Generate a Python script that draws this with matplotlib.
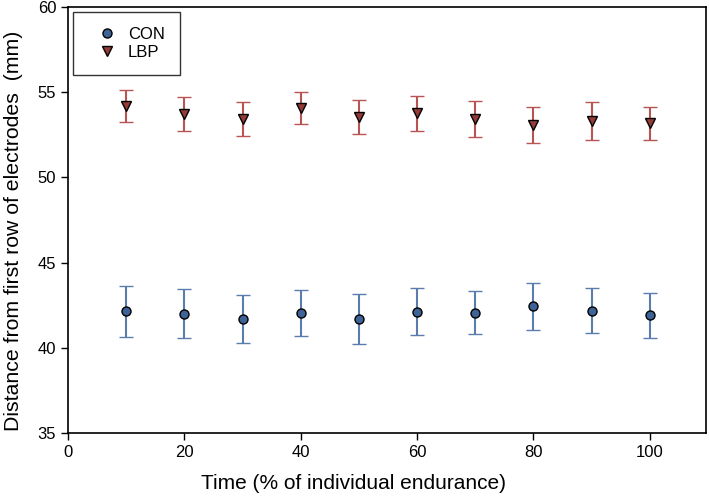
import matplotlib.pyplot as plt

plt.rcParams['font.family'] = ['Liberation Sans', 'DejaVu Sans']

# data
time = [10, 20, 30, 40, 50, 60, 70, 80, 90, 100]
con_mean = [42.15, 42.0, 41.7, 42.05, 41.7, 42.12, 42.07, 42.45, 42.18, 41.9]
con_err = [1.5, 1.45, 1.4, 1.37, 1.47, 1.37, 1.26, 1.38, 1.3, 1.33]
lbp_mean = [54.2, 53.7, 53.4, 54.05, 53.55, 53.75, 53.42, 53.08, 53.3, 53.17]
lbp_err = [0.95, 1.0, 1.0, 0.93, 1.0, 1.02, 1.05, 1.07, 1.1, 0.98]

fig = plt.figure(figsize=(7.09, 4.96), dpi=100)
ax = fig.add_axes([0.096, 0.127, 0.9, 0.859])

ax.errorbar(time, con_mean, yerr=con_err, fmt='o', color='#3E6497',
            ecolor='#5A7DAE', elinewidth=1.5, capsize=5, capthick=1.5,
            markersize=6.5, markeredgecolor='black', markeredgewidth=1.0,
            label='CON')
ax.errorbar(time, lbp_mean, yerr=lbp_err, fmt='v', color='#943B38',
            ecolor='#B85452', elinewidth=1.5, capsize=5, capthick=1.5,
            markersize=7.5, markeredgecolor='black', markeredgewidth=1.0,
            label='LBP')

ax.set_xlim(0, 109.7)
ax.set_ylim(35, 60)
ax.set_xticks([0, 20, 40, 60, 80, 100])
ax.set_yticks([35, 40, 45, 50, 55, 60])
ax.tick_params(direction='out', length=5, width=1, labelsize=12)
for s in ax.spines.values():
    s.set_linewidth(1.2)

ax.set_xlabel('Time (% of individual endurance)', fontsize=15)
ax.xaxis.set_label_coords(0.448, -0.096)
ax.set_ylabel('Distance from first row of electrodes  (mm)', fontsize=15.3)
ax.yaxis.set_label_coords(-0.07, 0.474)

handles, labels = ax.get_legend_handles_labels()
handles = [h[0] for h in handles]
leg = ax.legend(handles, labels, loc='upper left', fontsize=12, frameon=True,
                fancybox=False, edgecolor='black', borderpad=0.9,
                handletextpad=0.1, labelspacing=0.15, handlelength=2.3,
                borderaxespad=0, bbox_to_anchor=(0.0074, 0.988))
leg.get_frame().set_linewidth(1.0)

fig.savefig('out.png', dpi=100)
